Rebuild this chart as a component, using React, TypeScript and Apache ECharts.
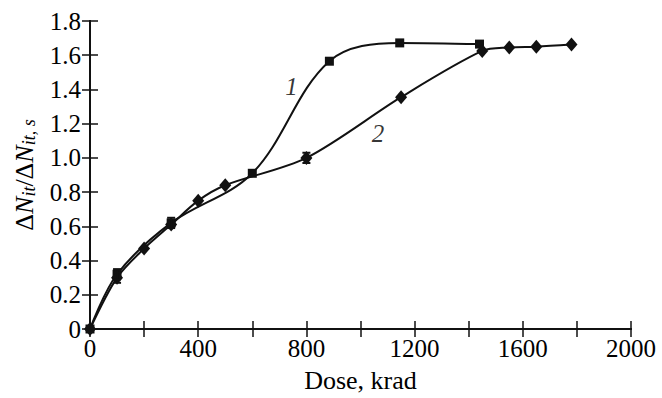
import React, { useEffect, useRef } from "react";
import * as echarts from "echarts";

const dose1 = [0, 100, 300, 600, 885, 1145, 1440];
const ratio1 = [0, 0.32, 0.62, 0.91, 1.565, 1.672, 1.665];
const dose2 = [0, 100, 200, 300, 400, 500, 800, 1150, 1450, 1550, 1650, 1780];
const ratio2 = [0, 0.30, 0.47, 0.61, 0.75, 0.84, 1.0, 1.355, 1.625, 1.645, 1.65, 1.662];
const errDose = [100, 100, 300, 800];
const errLow = [0.27, 0.29, 0.59, 0.97];
const errHigh = [0.33, 0.35, 0.65, 1.03];
const curveNames = ["1", "2"];
const curveLabelDose = [745, 1065];
const curveLabelRatio = [1.42, 1.14];

const FONT = "Liberation Serif";

export default function App() {
  const ref = useRef<HTMLDivElement>(null);
  useEffect(() => {
    const chart = echarts.init(ref.current!, null, { renderer: "svg" });
    const axisLine = { show: true, lineStyle: { color: "#111", width: 2 } };
    const tick = { show: true, inside: true, length: 8, lineStyle: { color: "#111", width: 1.5 } };
    chart.setOption({
      animation: false,
      backgroundColor: "#fff",
      grid: { left: 90, right: 31, top: 21, bottom: 61, containLabel: false },
      xAxis: [
        {
          type: "value",
          min: 0,
          max: 2000,
          interval: 200,
          axisLine,
          axisTick: tick,
          splitLine: { show: false },
          axisLabel: {
            color: "#000",
            fontFamily: FONT,
            fontSize: 25,
            margin: 7,
            formatter: (v: number) => (v % 400 === 0 ? String(v) : ""),
          },
          name: "Dose, krad",
          nameLocation: "middle",
          nameGap: 38,
          nameTextStyle: { color: "#000", fontFamily: FONT, fontSize: 26 },
        },
        {
          type: "value",
          position: "top",
          min: 0,
          max: 2000,
          interval: 200,
          axisLine,
          axisTick: tick,
          axisLabel: { show: false },
          splitLine: { show: false },
        },
      ],
      yAxis: [
        {
          type: "value",
          min: 0,
          max: 1.8,
          interval: 0.2,
          axisLine,
          axisTick: tick,
          splitLine: { show: false },
          axisLabel: {
            color: "#000",
            fontFamily: FONT,
            fontSize: 25,
            margin: 9,
            formatter: (v: number) => (v === 0 ? "0" : v.toFixed(1)),
          },
          name: "{a|Δ}{i|N}{s|it}{a|/Δ}{i|N}{s|it, s}",
          nameLocation: "middle",
          nameRotate: 90,
          nameGap: 52,
          nameTextStyle: {
            color: "#000",
            fontFamily: FONT,
            rich: {
              a: { fontFamily: FONT, fontSize: 26, lineHeight: 28, color: "#000" },
              i: { fontFamily: FONT, fontSize: 26, fontStyle: "italic", lineHeight: 28, color: "#000" },
              s: {
                fontFamily: FONT,
                fontSize: 18,
                fontStyle: "italic",
                lineHeight: 13,
                verticalAlign: "bottom",
                color: "#000",
              },
            },
          },
        },
        {
          type: "value",
          position: "right",
          min: 0,
          max: 1.8,
          interval: 0.2,
          axisLine,
          axisTick: tick,
          axisLabel: { show: false },
          splitLine: { show: false },
        },
      ],
      series: [
        {
          type: "line",
          data: dose1.map((d, i) => [d, ratio1[i]]),
          smooth: 0.35,
          symbol: "rect",
          symbolSize: 9,
          itemStyle: { color: "#111" },
          lineStyle: { color: "#111", width: 2 },
          z: 3,
        },
        {
          type: "line",
          data: dose2.map((d, i) => [d, ratio2[i]]),
          smooth: 0.3,
          symbol: "diamond",
          symbolSize: [12, 14],
          itemStyle: { color: "#111" },
          lineStyle: { color: "#111", width: 2 },
          z: 3,
        },
        {
          type: "custom",
          data: errDose.map((d, i) => [d, errLow[i], errHigh[i]]),
          renderItem: (params: any, api: any) => {
            const lo = api.coord([api.value(0), api.value(1)]);
            const hi = api.coord([api.value(0), api.value(2)]);
            const w = 4;
            const style = { stroke: "#111", lineWidth: 2 };
            return {
              type: "group",
              children: [
                { type: "line", shape: { x1: lo[0], y1: lo[1], x2: hi[0], y2: hi[1] }, style },
                { type: "line", shape: { x1: lo[0] - w, y1: lo[1], x2: lo[0] + w, y2: lo[1] }, style },
                { type: "line", shape: { x1: hi[0] - w, y1: hi[1], x2: hi[0] + w, y2: hi[1] }, style },
              ],
            };
          },
          z: 4,
        },
        {
          type: "scatter",
          data: curveNames.map((n, i) => ({ value: [curveLabelDose[i], curveLabelRatio[i]], name: n })),
          symbolSize: 0,
          label: {
            show: true,
            position: "inside",
            formatter: (p: any) => p.name,
            fontFamily: FONT,
            fontSize: 25,
            fontStyle: "italic",
            color: "#000",
          },
        },
      ],
    });
    return () => chart.dispose();
  }, []);
  return <div ref={ref} style={{ width: 662, height: 398, position: "absolute", left: 0, top: 0 }} />;
}
